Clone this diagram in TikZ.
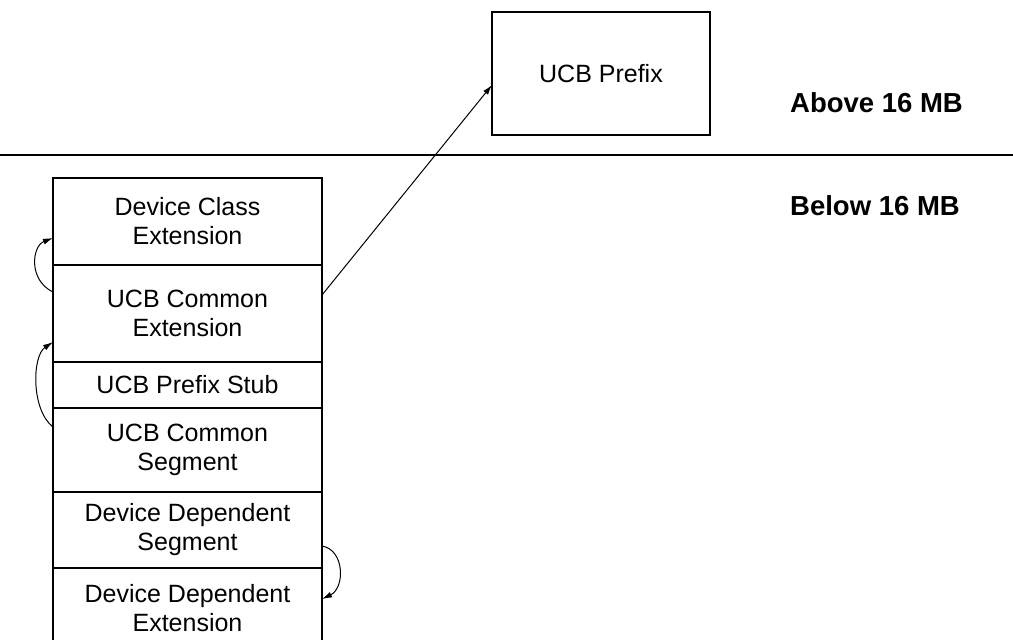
\documentclass[tikz,border=0pt]{standalone}
\usepackage{fontspec}
\setmainfont{Liberation Sans}
\usetikzlibrary{arrows.meta}
\tikzset{
  seg/.style={draw, line width=1.3pt, rectangle, inner sep=0pt, align=center,
    minimum width=269pt, font=\fontsize{25}{29}\selectfont},
  prefixbox/.style={draw, line width=1.3pt, rectangle, inner sep=0pt,
    minimum width=218pt, minimum height=123pt, font=\fontsize{25}{29}\selectfont},
  region/.style={inner sep=0pt, anchor=west, font=\fontsize{27.5}{31}\selectfont\bfseries},
  link/.style={line width=1pt, -{Latex[length=10pt,width=6pt]}},
  divider/.style={line width=2.4pt}
}
\begin{document}
\begin{tikzpicture}[x=1pt, y=-1pt]
\useasboundingbox (0,0) rectangle (1013,640);

% storage line dividing the two address ranges
\coordinate (lineL) at (0,155);
\coordinate (lineR) at (1013,155);
\draw[divider] (lineL) -- (lineR);

\node[region] (above) at (790,103) {Above 16 MB};
\node[region] (below) at (790,206) {Below 16 MB};

% control block above the line
\node[prefixbox] (prefix) at (601,73.5) {UCB Prefix};

% stacked control block segments below the line
\node[seg, minimum height=87pt] (dce) at (187.5,221.5) {Device Class\\Extension};
\node[seg, minimum height=97pt] (uce) at (187.5,313.5) {UCB Common\\Extension};
\node[seg, minimum height=46pt] (stub) at (187.5,385) {UCB Prefix Stub};
\node[seg, minimum height=84pt] (ucs) at (187.5,450) {UCB Common\\Segment};
\node[seg, minimum height=76pt] (dds) at (187.5,530) {Device Dependent\\Segment};
\node[seg, minimum height=80pt] (dde) at (187.5,608) {Device Dependent\\Extension};

% pointer attach points
\coordinate (uceR) at (322,295);
\coordinate (prefixL) at (492,85);
\coordinate (uceL) at (53,292);
\coordinate (dceL) at (53,238);
\coordinate (ucsL) at (53,427);
\coordinate (uceL2) at (53,342);
\coordinate (ddsR) at (322,546);
\coordinate (ddeR) at (322,599);

\draw[link] (uceR) -- (prefixL);
\draw[link] (uceL) .. controls (28,280) and (32,246) .. (dceL);
\draw[link] (ucsL) .. controls (31,410) and (32,356) .. (uceL2);
\draw[link] (ddsR) .. controls (345,550) and (345,588) .. (ddeR);
\end{tikzpicture}
\end{document}
